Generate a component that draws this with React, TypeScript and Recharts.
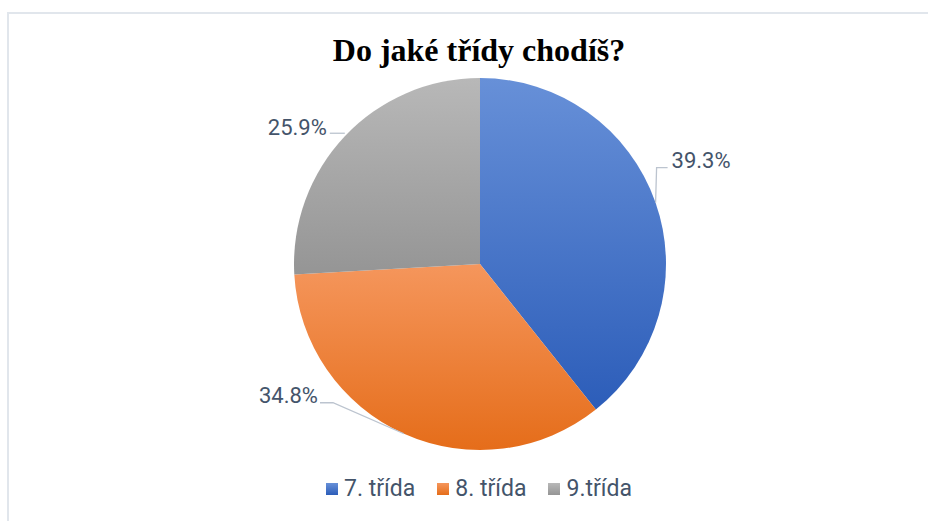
import { PieChart, Pie, Cell, Legend } from 'recharts'

const categories = ['7. třída', '8. třída', '9.třída']
const shares = [39.3, 34.8, 25.9]
const title = 'Do jaké třídy chodíš?'

const gradients = [
  { id: 'gBlue', top: '#6790d8', bottom: '#2c5db9' },
  { id: 'gOrange', top: '#f5965c', bottom: '#e56d1a' },
  { id: 'gGray', top: '#b8b8b8', bottom: '#959595' },
]

// leader line points and text anchor, relative to the slice's outer mid point
const leaders = [
  { pts: [[0, 0], [1, -35], [12, -35]], tx: 16, ty: -35, anchor: 'start' },
  { pts: [[0, 0], [-71, -31], [-84, -31]], tx: -86, ty: -31, anchor: 'end' },
  { pts: [[0, -3], [-15, -3]], tx: -18, ty: -1, anchor: 'end' },
]

const data = categories.map((name, i) => ({ name, value: shares[i] }))

const TEXT = '#44546a'
const FONT = 'Roboto, "Open Sans", sans-serif'
const RAD = Math.PI / 180

function renderLabel(props: any) {
  const { cx, cy, midAngle, outerRadius, index, value } = props
  const x0 = cx + outerRadius * Math.cos(-midAngle * RAD)
  const y0 = cy + outerRadius * Math.sin(-midAngle * RAD)
  const l = leaders[index]
  const points = l.pts.map(([dx, dy]) => `${x0 + dx},${y0 + dy}`).join(' ')
  return (
    <g key={`lbl-${index}`}>
      <polyline points={points} fill="none" stroke="#bcc4cf" strokeWidth={1.3} />
      <text x={x0 + l.tx} y={y0 + l.ty} textAnchor={l.anchor} fill={TEXT}
        fontSize={22} fontFamily={FONT}>
        {value.toFixed(1)}%
      </text>
    </g>
  )
}

function renderLegend() {
  return (
    <div style={{ display: 'flex', justifyContent: 'center', gap: 22, fontFamily: FONT, fontSize: 23, color: TEXT }}>
      {categories.map((c, i) => (
        <div key={c} style={{ display: 'flex', alignItems: 'center' }}>
          <svg width={12} height={12} style={{ marginRight: 6 }}>
            <rect width={12} height={12} fill={`url(#${gradients[i].id})`} />
          </svg>
          <span>{c}</span>
        </div>
      ))}
    </div>
  )
}

export default function App() {
  return (
    <div style={{ position: 'absolute', left: 0, top: 0, width: 928, height: 521, background: '#fff', overflow: 'hidden' }}>
      <div style={{ position: 'absolute', left: 7, top: 12, width: 940, height: 540, borderLeft: '2px solid #e1e6ec', borderTop: '2px solid #e1e6ec' }} />
      <div style={{ position: 'absolute', left: 0, top: 34, width: 958, textAlign: 'center', fontFamily: '"Liberation Serif", "Times New Roman", serif', fontWeight: 'bold', fontSize: 32, lineHeight: '32px', color: '#000' }}>
        {title}
      </div>
      <PieChart width={928} height={521} margin={{ top: 0, right: 0, bottom: 0, left: 0 }}
        style={{ position: 'absolute', left: 0, top: 0 }}>
        <defs>
          {gradients.map(g => (
            <linearGradient key={g.id} id={g.id} x1="0" y1="0" x2="0" y2="1">
              <stop offset="0%" stopColor={g.top} />
              <stop offset="100%" stopColor={g.bottom} />
            </linearGradient>
          ))}
        </defs>
        <Pie data={data} dataKey="value" nameKey="name" cx={480} cy={264} outerRadius={186}
          startAngle={90} endAngle={-270} stroke="none" label={renderLabel} labelLine={false}
          isAnimationActive={false}>
          {data.map((d, i) => <Cell key={d.name} fill={`url(#${gradients[i].id})`} />)}
        </Pie>
        <Legend content={renderLegend} wrapperStyle={{ position: 'absolute', top: 475, left: 0, width: 958 }} />
      </PieChart>
    </div>
  )
}
